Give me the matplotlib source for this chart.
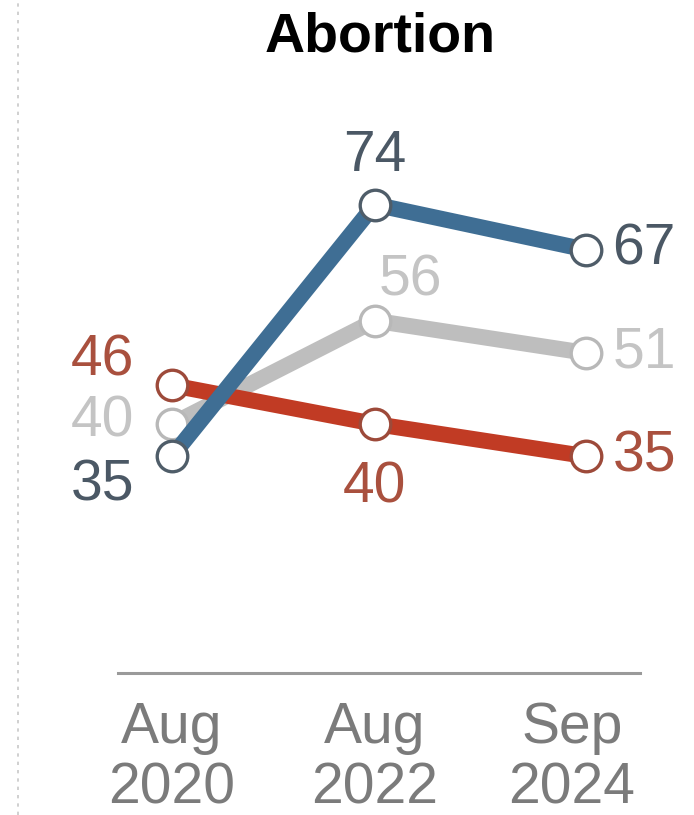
import matplotlib

matplotlib.use("Agg")
import matplotlib.pyplot as plt  # noqa: E402
from matplotlib.lines import Line2D  # noqa: E402
from matplotlib.transforms import ScaledTranslation  # noqa: E402

plt.rcParams["font.family"] = ["Liberation Sans", "DejaVu Sans"]

# months since Aug 2020
months = [0, 24, 49]
tick_labels = ["Aug\n2020", "Aug\n2022", "Sep\n2024"]

blue_vals = [35, 74, 67]
gray_vals = [40, 56, 51]
red_vals = [46, 40, 35]

BLUE, BLUE_TXT, BLUE_EDGE = "#3f6e94", "#4b5865", "#4f5d69"
GRAY, GRAY_TXT, GRAY_EDGE = "#bebebe", "#c4c4c4", "#b8b8b8"
RED, RED_TXT, RED_EDGE = "#c13b24", "#a9503e", "#9d4a3a"

fig = plt.figure(figsize=(6.94, 8.15), dpi=100)
ax = fig.add_axes([118 / 694, (815 - 673) / 815, 522 / 694, (673 - 100) / 815])
ax.set_xlim(-6.4, 55.4)
ax.set_ylim(1.4, 90.2)

series = [
    (gray_vals, GRAY, GRAY_EDGE, 2),
    (red_vals, RED, RED_EDGE, 3),
    (blue_vals, BLUE, BLUE_EDGE, 4),
]
for vals, col, edge, z in series:
    ax.plot(months, vals, color=col, linewidth=11.5, solid_capstyle="butt", zorder=z)
    ax.plot(months, vals, linestyle="none", marker="o", markersize=22,
            markerfacecolor="white", markeredgecolor=edge, markeredgewidth=2.4,
            zorder=z + 0.5)

fs = 41


def lab(x, y, color, dx, dy, ha):
    ax.annotate(str(y), (x, y), xytext=(dx, dy), textcoords="offset points",
                ha=ha, va="center", fontsize=fs, color=color, zorder=10)


# left side
lab(months[0], red_vals[0], RED_TXT, -27, 18, "right")
lab(months[0], gray_vals[0], GRAY_TXT, -27, 2, "right")
lab(months[0], blue_vals[0], BLUE_TXT, -27, -21, "right")
# middle
lab(months[1], blue_vals[1], BLUE_TXT, 0, 35, "center")
lab(months[1], gray_vals[1], GRAY_TXT, 26, 29, "center")
lab(months[1], red_vals[1], RED_TXT, 0, -46, "center")
# right side
lab(months[2], blue_vals[2], BLUE_TXT, 19, 0, "left")
lab(months[2], gray_vals[2], GRAY_TXT, 19, 0, "left")
lab(months[2], red_vals[2], RED_TXT, 19, 0, "left")

for s in ["top", "right", "left"]:
    ax.spines[s].set_visible(False)
ax.spines["bottom"].set_color("#9a9a9a")
ax.spines["bottom"].set_linewidth(2.2)
ax.set_yticks([])
ax.set_xticks(months)
ax.set_xticklabels(tick_labels, fontsize=fs, color="#7b7b7b", linespacing=1.17)
ax.tick_params(axis="x", length=0, pad=20)
last = ax.get_xticklabels()[-1]
last.set_transform(last.get_transform() + ScaledTranslation(-0.14, 0, fig.dpi_scale_trans))

fig.text(380 / 694, 1 - 52 / 815, "Abortion", ha="center", va="baseline",
         fontsize=40, fontweight="bold", color="black")

fig.add_artist(Line2D([18 / 694, 18 / 694], [0, 1], transform=fig.transFigure,
                      color="#c8c8c8", linewidth=1.2, linestyle=(0, (2, 3))))

fig.savefig("out.png", dpi=100)
